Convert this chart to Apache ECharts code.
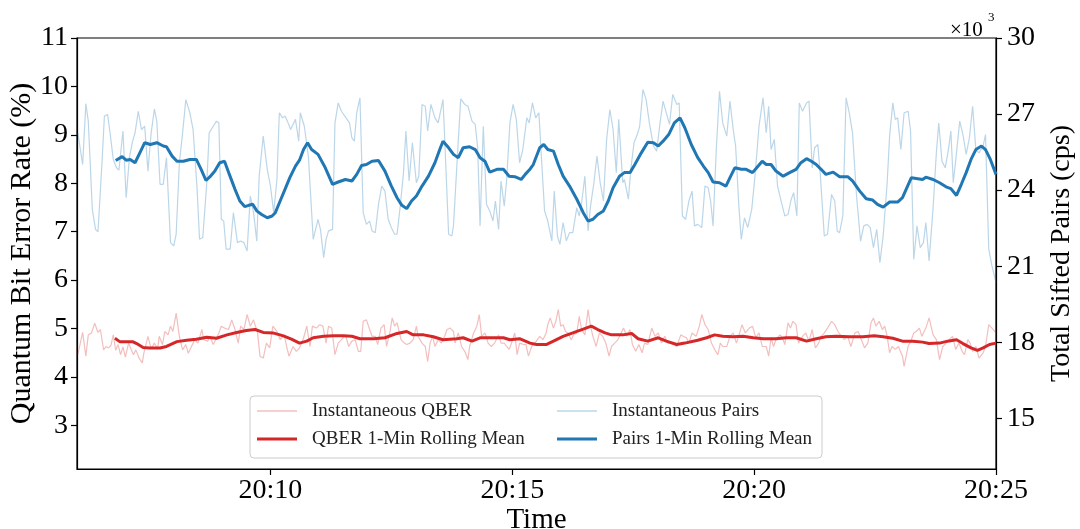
<!DOCTYPE html>
<html><head><meta charset="utf-8">
<script src="https://cdn.jsdelivr.net/npm/echarts@6/dist/echarts.min.js"></script>
<style>html,body{margin:0;padding:0;background:#fff}#c{width:1080px;height:529px}</style>
</head><body><div id="c"></div>
<script>
// time in seconds after 20:06:00
const qberInst = [[1,4.46],[7,4.92],[11,4.43],[14,4.87],[18,4.91],[22,5.11],[26,4.92],[29,4.98],[33,4.56],[36,4.63],[39,4.60],[42,4.65],[45,4.87],[48,4.55],[51,4.67],[54,4.46],[57,4.62],[60,4.41],[64,4.70],[67,4.58],[70,4.46],[73,4.56],[77,4.39],[81,4.29],[83,4.50],[88,4.84],[92,4.58],[96,4.70],[100,4.58],[102,4.84],[106,4.67],[109,4.94],[113,4.87],[116,5.05],[119,4.94],[123,5.32],[127,4.84],[131,4.56],[135,4.67],[138,4.49],[142,4.63],[146,4.77],[150,4.70],[155,4.98],[157,4.77],[162,4.74],[165,4.84],[169,4.67],[172,4.77],[176,4.91],[179,5.05],[183,5.01],[188,4.98],[192,5.18],[196,4.98],[200,4.70],[203,5.05],[207,4.98],[211,5.29],[215,5.05],[219,5.18],[224,4.91],[227,4.43],[231,4.39],[235,4.70],[239,4.60],[243,5.05],[248,4.94],[252,4.77],[257,4.87],[260,4.63],[263,4.43],[268,4.63],[272,4.53],[276,4.60],[281,4.80],
[285,5.05],[289,4.63],[292,5.05],[297,5.01],[301,5.08],[305,5.05],[309,4.70],[312,5.05],[316,5.01],[320,4.46],[324,4.70],[328,4.77],[333,4.87],[337,4.63],[341,4.74],[345,4.77],[349,4.53],[352,4.53],[355,5.15],[359,5.18],[363,4.98],[366,4.84],[370,4.84],[373,4.67],[377,5.01],[381,5.08],[384,4.63],[388,4.91],[391,5.22],[394,5.05],[397,5.12],[402,4.77],[406,4.70],[409,4.67],[413,4.70],[417,4.77],[421,5.05],[423,4.84],[428,4.70],[432,4.63],[435,4.32],[438,4.70],[441,4.84],[444,4.63],[448,4.77],[452,4.70],[456,4.84],[459,4.98],[463,5.01],[467,4.94],[469,4.70],[473,4.91],[477,4.63],[481,4.53],[485,4.36],[487,4.63],[492,4.91],[496,5.05],[499,5.29],[502,4.84],[506,4.91],[510,4.70],[514,4.63],[518,4.70],[523,4.87],[526,4.70],[530,4.70],[533,4.63],[536,4.57],[539,4.70],[543,4.91],[546,4.46],[549,4.70],[554,4.67],[557,4.67],[560,4.43],[564,4.63],[568,4.70],
[570,4.67],[574,4.84],[578,4.77],[582,4.91],[584,5.08],[587,5.22],[591,5.01],[594,5.15],[597,5.39],[600,5.05],[603,5.08],[606,4.94],[609,4.91],[613,4.77],[616,4.87],[620,4.91],[623,5.25],[626,4.98],[630,4.87],[634,5.39],[637,5.05],[640,4.84],[644,4.63],[648,4.91],[652,4.84],[656,4.70],[660,4.43],[663,4.63],[667,4.70],[671,4.77],[675,4.91],[678,5.01],[682,4.84],[686,4.98],[689,4.67],[693,4.53],[697,4.67],[701,4.50],[704,4.70],[708,4.67],[713,5.01],[717,4.84],[721,4.91],[725,4.70],[729,4.84],[733,4.70],[737,4.70],[741,4.67],[744,4.63],[749,4.87],[752,4.84],[756,4.81],[759,4.70],[763,4.91],[768,4.84],[772,5.05],[775,5.29],[779,5.08],[783,4.98],[787,4.70],[791,4.57],[795,4.46],[798,4.70],[801,4.63],[806,4.63],[810,4.84],[814,4.91],[818,4.70],[822,4.91],[825,5.08],[829,4.91],[834,5.01],[838,5.05],[842,4.81],[846,4.91],[850,4.63],
[855,4.63],[858,4.43],[861,4.81],[864,4.63],[867,4.77],[872,4.87],[875,4.81],[878,4.67],[882,5.12],[885,5.01],[888,5.15],[892,5.08],[895,4.70],[900,4.84],[904,4.91],[908,4.74],[912,4.98],[916,4.60],[920,4.70],[923,4.84],[927,4.91],[931,5.01],[936,5.15],[940,5.08],[944,4.94],[948,4.84],[952,4.77],[956,4.84],[960,4.63],[965,4.91],[969,4.94],[973,4.77],[977,4.60],[981,4.70],[985,5.12],[988,5.22],[991,5.05],[995,5.15],[999,4.98],[1002,5.05],[1005,4.84],[1008,4.50],[1011,4.63],[1015,4.57],[1019,4.63],[1024,4.43],[1026,4.22],[1031,4.63],[1035,4.77],[1038,4.91],[1041,4.94],[1045,5.01],[1048,4.84],[1053,5.01],[1057,5.22],[1062,4.87],[1066,4.77],[1070,4.36],[1074,4.63],[1078,4.70],[1082,4.77],[1086,4.84],[1090,4.57],[1094,4.70],[1098,4.53],[1101,4.46],[1105,4.77],[1108,4.70],[1111,4.53],[1115,4.63],[1119,4.39],[1124,4.50],[1127,4.63],[1131,5.08],[1135,5.01],[1140,4.91]];

const qberMean = [[47,4.80],[53,4.73],[62,4.73],[69,4.73],[74,4.69],[82,4.61],[90,4.60],[103,4.60],[111,4.63],[124,4.73],[136,4.76],[148,4.78],[161,4.82],[173,4.80],[186,4.87],[198,4.92],[210,4.96],[221,4.98],[231,4.92],[243,4.91],[256,4.85],[266,4.78],[276,4.70],
[285,4.74],[293,4.81],[306,4.84],[318,4.85],[330,4.85],[341,4.84],[351,4.79],[368,4.79],[382,4.81],[397,4.90],[409,4.94],[417,4.87],[430,4.87],[442,4.83],[454,4.77],[471,4.79],[479,4.81],[490,4.74],[500,4.81],[512,4.81],[529,4.81],[537,4.77],[549,4.79],[562,4.70],
[570,4.67],[582,4.67],[591,4.74],[603,4.84],[615,4.91],[628,4.99],[638,5.05],[646,4.98],[655,4.91],[663,4.87],[677,4.87],[688,4.90],[696,4.79],[708,4.74],[721,4.81],[731,4.74],[744,4.67],[754,4.70],[770,4.76],[781,4.81],[791,4.87],[801,4.84],[814,4.83],[826,4.84],[839,4.81],[851,4.79],
[867,4.79],[880,4.81],[892,4.81],[905,4.74],[917,4.79],[929,4.83],[942,4.84],[958,4.83],[975,4.83],[989,4.85],[1000,4.83],[1012,4.80],[1024,4.74],[1037,4.74],[1049,4.72],[1057,4.69],[1070,4.70],[1080,4.74],[1091,4.77],[1099,4.69],[1109,4.60],[1117,4.55],[1124,4.60],[1132,4.67],[1140,4.70]];

// pairs in thousands of counts per second
const pairsInst = [[1,26.26],[7,25.01],[11,27.41],[14,26.72],[19,23.24],[23,22.45],[26,22.35],[31,25.08],[34,26.92],[38,26.98],[41,26.26],[45,25.21],[49,24.88],[52,24.79],[57,26.33],[61,23.70],[65,25.28],[69,25.93],[72,26.26],[76,27.11],[80,26.39],[84,26.52],[88,24.75],[92,26.26],[96,27.20],[99,26.72],[103,24.23],[107,24.23],[111,25.28],[116,21.93],[120,21.80],[123,22.26],[127,25.08],[131,26.26],[135,27.57],[140,27.05],[144,26.39],[149,24.03],[152,22.06],[156,22.13],[161,24.29],[164,26.26],[169,26.52],[173,26.72],[176,26.65],[179,22.85],[182,22.78],[185,21.67],[190,21.67],[194,23.11],[199,21.93],[203,21.99],[207,21.93],[211,21.60],[215,23.77],[219,23.11],[223,21.99],[226,24.55],[231,26.13],[236,24.82],[240,24.16],[244,23.11],[248,24.42],[251,27.05],[255,26.85],[258,26.92],[261,26.72],[265,26.39],[271,26.79],[275,25.93],[277,27.05],[282,26.52],
[287,25.34],[293,22.06],[299,22.85],[302,22.45],[306,21.34],[309,22.06],[312,22.39],[317,22.45],[320,26.65],[324,27.44],[328,27.11],[335,26.79],[338,26.65],[341,26.06],[344,25.93],[347,27.05],[351,27.64],[355,23.11],[359,22.65],[363,22.78],[366,22.39],[370,22.32],[374,23.44],[378,24.16],[382,23.96],[386,22.85],[390,22.52],[394,22.26],[397,22.26],[401,23.37],[405,24.69],[408,26.33],[412,24.36],[416,25.87],[421,24.29],[424,24.55],[428,27.38],[432,27.31],[435,26.33],[439,27.38],[444,26.85],[448,26.65],[454,27.57],[456,26.13],[461,22.26],[465,22.19],[467,22.59],[472,25.41],[476,27.60],[481,27.38],[485,27.31],[490,26.72],[494,26.59],[497,25.67],[500,22.59],[504,26.52],[508,23.44],[512,23.18],[516,22.78],[519,23.57],[523,22.45],[526,24.36],[530,23.37],[533,24.42],[537,26.65],[541,27.38],[545,26.79],[549,25.08],[553,25.60],[558,26.85],[561,26.65],[565,27.44],[569,26.85],[573,27.05],
[576,25.34],[580,23.18],[584,22.78],[589,22.00],[592,23.96],[596,22.19],[599,21.86],[603,22.72],[607,22.00],[611,22.32],[615,22.32],[620,23.31],[623,22.98],[626,23.50],[630,24.55],[634,22.39],[637,23.37],[641,24.23],[645,25.34],[649,24.29],[653,23.57],[657,26.00],[661,27.18],[665,26.39],[669,24.69],[672,26.79],[677,24.29],[679,24.42],[684,23.64],[687,24.82],[691,25.87],[695,26.19],[698,26.52],[702,27.97],[706,27.57],[710,26.65],[715,25.74],[719,25.54],[723,26.59],[727,27.51],[731,27.05],[735,26.59],[739,27.77],[744,27.38],[747,27.44],[751,22.98],[755,22.85],[759,23.57],[763,23.96],[766,22.59],[770,22.65],[775,22.52],[779,24.16],[783,24.09],[786,23.57],[789,22.59],[793,25.60],[797,27.90],[801,26.65],[806,26.13],[810,27.51],[814,26.39],[817,25.74],[821,23.37],[824,22.06],[828,22.91],[832,22.52],[837,23.24],[841,24.55],[846,26.52],[851,27.64],
[855,26.26],[858,27.31],[861,25.60],[865,26.00],[869,24.16],[874,23.50],[878,22.98],[882,23.04],[886,23.64],[889,23.90],[893,22.98],[896,27.44],[900,27.11],[905,27.44],[908,27.51],[912,24.88],[915,25.67],[919,25.80],[922,24.62],[927,22.19],[931,22.26],[936,23.83],[940,23.57],[943,22.39],[946,22.32],[950,22.98],[954,27.64],[958,27.05],[962,26.26],[967,23.77],[972,21.99],[976,22.59],[980,22.65],[984,22.52],[988,21.73],[992,22.45],[996,21.14],[1000,22.19],[1005,24.29],[1008,26.13],[1012,27.44],[1015,26.79],[1018,26.85],[1022,25.60],[1026,27.05],[1031,27.11],[1034,26.33],[1038,21.27],[1042,22.59],[1046,21.73],[1050,21.93],[1053,22.72],[1057,21.21],[1062,23.31],[1066,25.47],[1069,26.65],[1073,25.14],[1077,24.88],[1081,25.60],[1084,26.33],[1087,24.29],[1091,25.47],[1095,26.72],[1099,26.19],[1103,25.41],[1107,26.06],[1111,27.31],[1115,25.60],[1119,25.47],[1124,25.74],[1127,26.19],[1131,21.67],[1135,21.01],[1140,20.35]];

const pairsMean = [[48,25.17],[56,25.32],[61,25.18],[66,25.21],[72,25.08],[79,25.54],[84,25.87],[91,25.80],[99,25.87],[107,25.74],[111,25.71],[118,25.34],[124,25.14],[132,25.14],[140,25.21],[148,25.21],[154,24.82],[160,24.38],[165,24.53],[171,24.75],[177,25.08],[183,25.14],[189,24.62],[196,24.03],[202,23.57],[208,23.35],[213,23.40],[218,23.44],[223,23.18],[229,23.04],[236,22.91],[242,22.98],[246,23.11],[252,23.57],[258,24.03],[264,24.49],[271,24.95],[276,25.18],[281,25.60],
[286,25.87],[291,25.60],[299,25.41],[308,24.88],[317,24.23],[324,24.32],[333,24.42],[341,24.36],[347,24.62],[353,24.97],[359,25.01],[366,25.14],[374,25.17],[382,24.75],[390,24.16],[397,23.70],[403,23.40],[409,23.27],[415,23.57],[421,23.77],[428,24.16],[436,24.55],[444,25.08],[450,25.60],[454,25.93],[461,25.67],[467,25.41],[473,25.28],[479,25.67],[487,25.71],[494,25.60],[500,25.28],[506,25.14],[512,24.71],[521,24.82],[529,24.82],[536,24.55],[543,24.53],[551,24.42],[556,24.62],[561,24.79],[566,25.01],
[574,25.67],[579,25.80],[584,25.60],[591,25.54],[597,25.01],[603,24.55],[611,24.16],[620,23.64],[628,23.11],[634,22.78],[640,22.85],[646,23.04],[653,23.18],[659,23.57],[665,24.09],[673,24.55],[679,24.69],[686,24.69],[692,25.01],[700,25.47],[708,25.89],[715,25.87],[721,25.74],[727,25.93],[734,26.19],[741,26.65],[748,26.85],[754,26.46],[762,25.80],[770,25.28],[777,24.95],[783,24.69],[789,24.32],[797,24.29],[805,24.16],[810,24.49],[816,24.88],[824,24.82],[830,24.82],[838,24.69],[845,24.95],[850,25.14],
[855,25.01],[861,25.01],[867,24.75],[876,24.55],[884,24.69],[892,24.82],[898,25.08],[905,25.24],[911,25.14],[917,25.01],[923,24.82],[929,24.62],[938,24.71],[946,24.53],[956,24.53],[962,24.36],[971,23.96],[979,23.66],[987,23.61],[993,23.44],[1000,23.33],[1008,23.53],[1018,23.53],[1024,23.70],[1035,24.49],[1041,24.46],[1049,24.42],[1053,24.51],[1062,24.42],[1070,24.29],[1078,24.13],[1084,24.06],[1091,23.79],[1097,24.23],[1103,24.69],[1109,25.21],[1115,25.60],[1122,25.74],[1127,25.60],[1133,25.21],[1140,24.62]];

const xTicks = [240, 540, 840, 1140];          // 20:10, 20:15, 20:20, 20:25
const qberTicks = [3, 4, 5, 6, 7, 8, 9, 10, 11];
const pairsTicks = [15, 18, 21, 24, 27, 30];
const seriesNames = ['Instantaneous QBER', 'QBER 1-Min Rolling Mean', 'Instantaneous Pairs', 'Pairs 1-Min Rolling Mean'];

const FONT = 'Liberation Serif, Times New Roman, serif';
const TICK_FS = 28;
const axisCommon = {
  axisLine: {show: true, lineStyle: {color: '#000', width: 1.2}},
  axisTick: {show: true, inside: false, length: 6, lineStyle: {color: '#000', width: 1.2}},
  splitLine: {show: false},
  nameMoveOverlap: false,
};
function fmtTime(v) {
  const m = 6 + Math.round(v / 60);
  return '20:' + (m < 10 ? '0' + m : m);
}
function legendItem(name, left, top, thick) {
  return {orient: 'horizontal', left: left, top: top, itemWidth: 40, itemHeight: thick ? 3.2 : 1.3,
    icon: 'rect', padding: 0, data: [name], selectedMode: false,
    textStyle: {fontSize: 19, color: '#222', fontFamily: FONT, lineHeight: 22, padding: [0, 0, 0, 10]}};
}
const chart = echarts.init(document.getElementById('c'), null, {renderer: 'canvas'});
chart.setOption({
  animation: false,
  backgroundColor: '#fff',
  textStyle: {fontFamily: FONT},
  grid: {left: 77, right: 84, top: 38, bottom: 60, containLabel: false, outerBoundsMode: 'none',
         show: true, borderColor: '#000', borderWidth: 1.2, backgroundColor: 'transparent'},
  xAxis: Object.assign({}, axisCommon, {
    type: 'value', min: 0, max: 1140,
    axisTick: Object.assign({}, axisCommon.axisTick, {customValues: xTicks}),
    axisLabel: {customValues: xTicks, formatter: fmtTime, fontSize: TICK_FS, color: '#000', fontFamily: FONT, margin: 8},
    name: 'Time', nameLocation: 'middle', nameGap: 37,
    nameTextStyle: {fontSize: 29, color: '#000', fontFamily: FONT}
  }),
  yAxis: [
    Object.assign({}, axisCommon, {
      type: 'value', min: 2.1, max: 11, position: 'left',
      axisTick: Object.assign({}, axisCommon.axisTick, {customValues: qberTicks}),
      axisLabel: {customValues: qberTicks, fontSize: TICK_FS, color: '#000', fontFamily: FONT, margin: 9},
      name: 'Quantum Bit Error Rate (%)', nameLocation: 'middle', nameGap: 40, nameRotate: 90,
      nameTextStyle: {fontSize: 30, color: '#000', fontFamily: FONT}
    }),
    Object.assign({}, axisCommon, {
      type: 'value', min: 13, max: 30, position: 'right',
      axisTick: Object.assign({}, axisCommon.axisTick, {customValues: pairsTicks}),
      axisLabel: {customValues: pairsTicks, fontSize: TICK_FS, color: '#000', fontFamily: FONT, margin: 11},
      name: 'Total Sifted Pairs (cps)', nameLocation: 'middle', nameGap: 52, nameRotate: 90,
      nameTextStyle: {fontSize: 28, color: '#000', fontFamily: FONT}
    })
  ],
  legend: [
    legendItem(seriesNames[0], 257, 400, false),
    legendItem(seriesNames[1], 257, 428, true),
    legendItem(seriesNames[2], 557, 400, false),
    legendItem(seriesNames[3], 557, 428, true)
  ],
  graphic: [
    {type: 'rect', z: 3, shape: {x: 250, y: 396, width: 572, height: 62, r: 4},
     style: {fill: 'rgba(255,255,255,0.85)', stroke: '#cccccc', lineWidth: 1}},
    {type: 'text', left: 950, top: 20, z: 5, style: {text: '×10', fontSize: 21, fill: '#000', fontFamily: FONT}},
    {type: 'text', left: 988, top: 11, z: 5, style: {text: '3', fontSize: 13, fill: '#000', fontFamily: FONT}}
  ],
  series: [
    {name: seriesNames[0], type: 'line', yAxisIndex: 0, data: qberInst, symbol: 'none', z: 2,
     lineStyle: {color: 'rgba(214,39,40,0.3)', width: 1.2}, itemStyle: {color: 'rgba(214,39,40,0.3)'}},
    {name: seriesNames[1], type: 'line', yAxisIndex: 0, data: qberMean, symbol: 'none', z: 3,
     lineStyle: {color: '#d62728', width: 3}, itemStyle: {color: '#d62728'}},
    {name: seriesNames[2], type: 'line', yAxisIndex: 1, data: pairsInst, symbol: 'none', z: 2,
     lineStyle: {color: 'rgba(31,119,180,0.3)', width: 1.2}, itemStyle: {color: 'rgba(31,119,180,0.3)'}},
    {name: seriesNames[3], type: 'line', yAxisIndex: 1, data: pairsMean, symbol: 'none', z: 3,
     lineStyle: {color: '#1f77b4', width: 3}, itemStyle: {color: '#1f77b4'}}
  ]
});
</script></body></html>
